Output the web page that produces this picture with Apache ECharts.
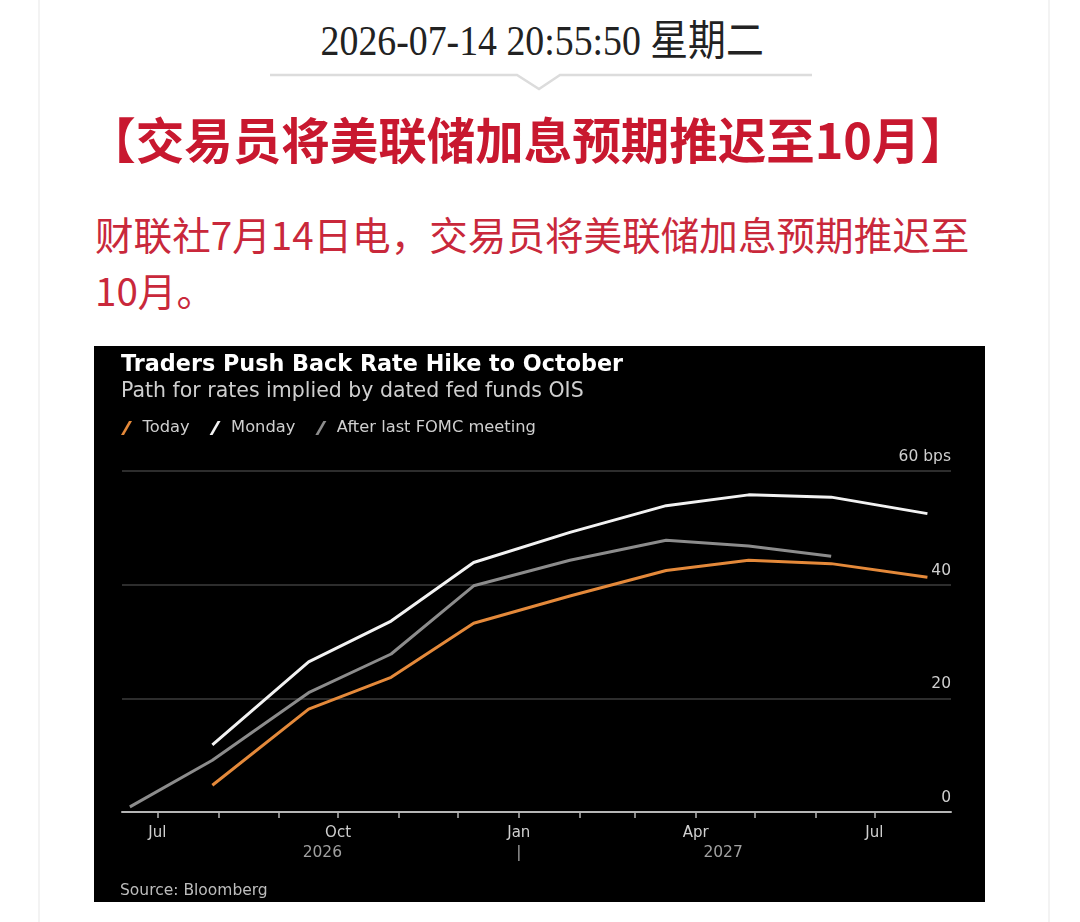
<!DOCTYPE html>
<html>
<head>
<meta charset="utf-8">
<script src="https://cdn.jsdelivr.net/npm/echarts@6/dist/echarts.min.js"></script>
<style>
  html, body { margin: 0; padding: 0; background: #ffffff; }
  body { width: 1080px; height: 922px; position: relative; overflow: hidden; }
  .card { position: absolute; left: 38px; top: -2px; width: 1008px; height: 930px; border-left: 2px solid #f3f3f3; border-right: 2px solid #f3f3f3; }
  .date { position: absolute; left: 0; width: 1084px; top: 16px; text-align: center; font-family: "Liberation Serif", "Noto Sans CJK SC", serif; font-size: 42px; line-height: 50px; color: #222; }
  .date span { display: inline-block; transform: scaleX(0.9); transform-origin: center; }
  .title { position: absolute; left: 0; width: 1056px; top: 108px; text-align: center; font-family: "Noto Sans CJK SC", sans-serif; font-weight: bold; font-size: 48.5px; color: #c8182f; line-height: 60px; }
  .body { position: absolute; left: 95px; top: 205px; width: 920px; font-family: "Noto Sans CJK SC", sans-serif; font-size: 38.6px; color: #c9283b; line-height: 56px; }
  #chart { position: absolute; left: 94px; top: 346px; width: 891px; height: 556px; background: #000; }
  svg.sep { position: absolute; left: 0; top: 0; }
</style>
</head>
<body>
<div class="card"></div>
<div class="date"><span>2026-07-14 20:55:50 星期二</span></div>
<svg class="sep" width="1080" height="100">
  <polyline points="270,75 517,75 539,89 560,75 812,75" fill="none" stroke="#dcdcdc" stroke-width="2.5"/>
</svg>
<div class="title">【交易员将美联储加息预期推迟至10月】</div>
<div class="body">财联社7月14日电，交易员将美联储加息预期推迟至<br>10月。</div>
<div id="chart"></div>
<script>
// ---- data ----
const meetingDates = ['2026-06-17','2026-07-29','2026-09-16','2026-10-28','2026-12-09','2027-01-27','2027-03-17','2027-04-28','2027-06-09','2027-07-28'];
const todayValues   = [null, 4.7, 18.1, 23.7, 33.2, 38.0, 42.5, 44.3, 43.7, 41.3];
const mondayValues  = [null, 11.8, 26.4, 33.6, 43.9, 49.2, 53.9, 55.8, 55.4, 52.5];
const afterFomcValues = [0.9, 9.1, 21.0, 27.8, 39.8, 44.3, 47.8, 46.8, 45.0, null];
const seriesNames = ['Today', 'Monday', 'After last FOMC meeting'];
const monthTicks = ['2026-07-01','2026-08-01','2026-09-01','2026-10-01','2026-11-01','2026-12-01',
                    '2027-01-01','2027-02-01','2027-03-01','2027-04-01','2027-05-01','2027-06-01','2027-07-01'];
const monthLabels = ['2026-07-01','2026-10-01','2027-01-01','2027-04-01','2027-07-01'];
const monthNames = ['Jan','Feb','Mar','Apr','May','Jun','Jul','Aug','Sep','Oct','Nov','Dec'];
const yTicks = [0, 20, 40, 60];
const yearLabels = [
  { text: '2026', date: '2026-09-23' },
  { text: '|',    date: '2027-01-01' },
  { text: '2027', date: '2027-04-15' }
];
const axisMin = '2026-06-13';
const axisMax = '2027-08-09';

const ts = s => +echarts.time.parse(s);
function pairs(vals) {
  const out = [];
  vals.forEach((v, i) => { if (v !== null) out.push([ts(meetingDates[i]), v]); });
  return out;
}

const chart = echarts.init(document.getElementById('chart'), null, { renderer: 'canvas' });
const FONT = 'DejaVu Sans';
const option = {
  backgroundColor: '#000',
  animation: false,
  title: [
    { text: 'Traders Push Back Rate Hike to October', left: 22, top: 3,
      textStyle: { color: '#ffffff', fontFamily: FONT, fontWeight: 'bold', fontSize: 22.3 } },
    { text: 'Path for rates implied by dated fed funds OIS', left: 22, top: 30,
      textStyle: { color: '#cfcfcf', fontFamily: FONT, fontWeight: 'normal', fontSize: 20.5 } }
  ],
  legend: {
    left: 22, top: 69, itemWidth: 12, itemHeight: 14, itemGap: 20,
    icon: 'path://M0,14 L3,14 L11,0 L8,0 Z',
    textStyle: { color: '#cfcfcf', fontFamily: FONT, fontSize: 16.3, padding: [0, 0, 0, 5] },
    data: seriesNames
  },
  grid: { left: 28, right: 34, top: 125, bottom: 90, containLabel: false },
  xAxis: {
    type: 'value',
    min: ts(axisMin), max: ts(axisMax),
    axisLine: { show: true, onZero: false, lineStyle: { color: '#b5b5b5', width: 2 } },
    axisTick: { show: true, length: 6, lineStyle: { color: '#b5b5b5', width: 1.5 },
                customValues: monthTicks.map(ts) },
    splitLine: { show: false },
    axisLabel: {
      color: '#cfcfcf', fontFamily: FONT, fontSize: 15, margin: 14, hideOverlap: false,
      customValues: monthLabels.map(ts),
      formatter: function (val) { return monthNames[new Date(val).getMonth()]; }
    }
  },
  yAxis: {
    type: 'value', position: 'right', min: yTicks[0], max: yTicks[yTicks.length - 1], interval: 20,
    axisLine: { show: false }, axisTick: { show: false },
    splitLine: { show: true, lineStyle: { color: '#3d3d3d', width: 1.5 } },
    axisLabel: {
      inside: true, margin: 0, color: '#cfcfcf', fontFamily: FONT, fontSize: 15.5,
      verticalAlign: 'bottom', padding: [0, 0, 6, 0],
      formatter: v => (v === 60 ? '60 bps' : String(v))
    }
  },
  series: [
    { name: seriesNames[0], type: 'line', data: pairs(todayValues), showSymbol: false,
      lineStyle: { color: '#e4893a', width: 3 }, itemStyle: { color: '#e4893a' }, z: 4 },
    { name: seriesNames[1], type: 'line', data: pairs(mondayValues), showSymbol: false,
      lineStyle: { color: '#f2f2f2', width: 3 }, itemStyle: { color: '#f2f2f2' }, z: 3 },
    { name: seriesNames[2], type: 'line', data: pairs(afterFomcValues), showSymbol: false,
      lineStyle: { color: '#8c8c8c', width: 3 }, itemStyle: { color: '#8c8c8c' }, z: 2 }
  ]
};
chart.setOption(option);

const baseY = chart.convertToPixel({ yAxisIndex: 0 }, 0);
const gfx = yearLabels.map(l => ({
  type: 'text',
  x: chart.convertToPixel({ xAxisIndex: 0 }, ts(l.date)),
  y: baseY + 41,
  style: { text: l.text, fill: '#a0a0a0', font: '15.5px "DejaVu Sans"', textAlign: 'center', textVerticalAlign: 'middle' }
}));
gfx.push({
  type: 'text', left: 26, top: 537,
  style: { text: 'Source: Bloomberg', fill: '#bdbdbd', font: '15.5px "DejaVu Sans"' }
});
chart.setOption({ graphic: gfx });
</script>
</body>
</html>
